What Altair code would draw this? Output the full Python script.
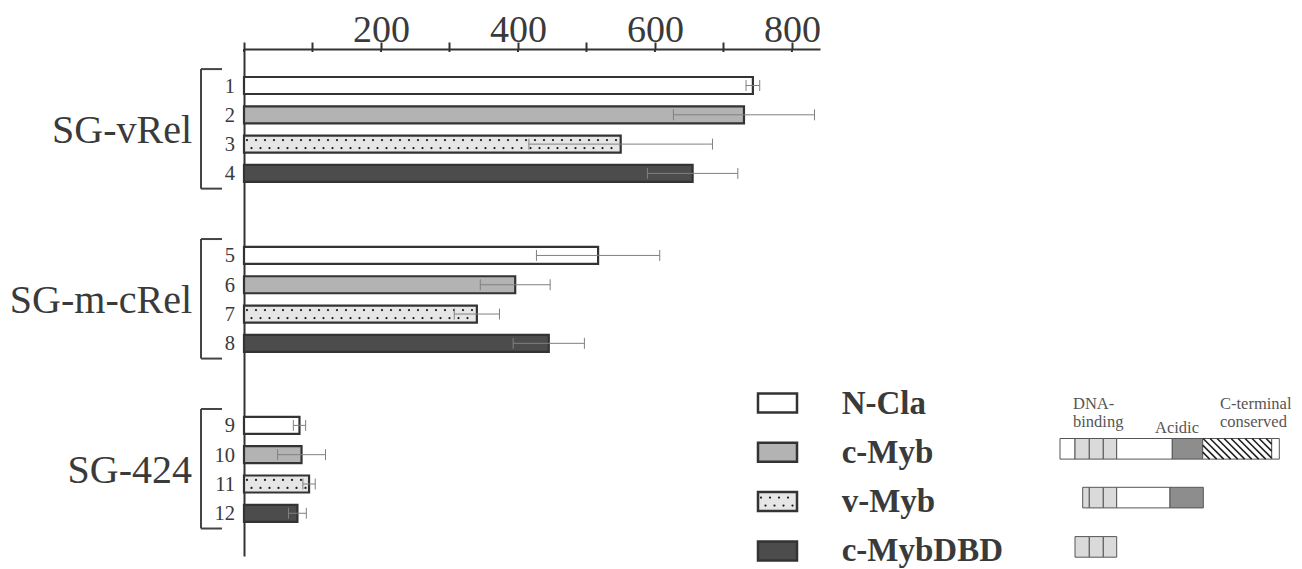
import altair as alt
import pandas as pd

# ---------------- data ----------------
BAR_NUMBERS = [1, 2, 3, 4, 5, 6, 7, 8, 9, 10, 11, 12]
GROUP_NAMES = ["SG-vRel", "SG-m-cRel", "SG-424"]
CONSTRUCTS = ["N-Cla", "c-Myb", "v-Myb", "c-MybDBD"]
VALUES = [743, 730, 550, 655, 517, 396, 340, 445, 81, 84, 95, 78]
ERRORS = [10, 103, 134, 66, 90, 51, 33, 52, 9, 35, 9, 13]
TICK_VALUES = [0, 100, 200, 300, 400, 500, 600, 700, 800]
LABELLED_TICKS = [200, 400, 600, 800]

# protein domain diagrams (relative segment lengths)
DIAGRAM_NAMES = ["c-Myb", "v-Myb", "c-MybDBD"]
CMYB_PARTS = ["plain", "repeat", "repeat", "repeat", "plain", "acidic", "cterm", "plain"]
CMYB_LENGTHS = [15, 14.3, 14, 13.4, 55.6, 30.4, 69, 7.6]
VMYB_PARTS = ["repeat", "repeat", "repeat", "plain", "acidic"]
VMYB_LENGTHS = [6.6, 14, 13.4, 53.3, 33.3]
DBD_PARTS = ["repeat", "repeat", "repeat"]
DBD_LENGTHS = [14.3, 14, 13.4]
DOMAIN_LABELS = ["DNA-", "binding", "Acidic", "C-terminal", "conserved"]

# ---------------- layout / style ----------------
W, H = 576, 507
X_MAX = 841
PX = W / X_MAX
SLOT = 29.3
GAP = 1.8
FIRST_Y = 36.5
BAR_H = 17
Y_MIN = -FIRST_Y / SLOT
Y_MAX = (H - FIRST_Y) / SLOT
SERIF = "Liberation Serif"
INK = "#333333"
FILLS = ["#ffffff", "#b3b3b3", "#e6e6e6", "#4c4c4c"]
PART_COLORS = {"plain": "#ffffff", "repeat": "#dadada", "acidic": "#8d8d8d", "cterm": "#ffffff"}
LEG_ROW = 49.3

# bars table
rows = []
for i, n in enumerate(BAR_NUMBERS):
    g = i // 4
    rows.append(dict(number=str(n), group=GROUP_NAMES[g], construct=CONSTRUCTS[i % 4],
                     value=VALUES[i], err=ERRORS[i], pos=i + g * GAP))
bars = pd.DataFrame(rows)
bars["zero"] = 0
bars["lo"] = bars.value - bars.err
bars["hi"] = bars.value + bars.err
bars["y0"] = bars.pos - BAR_H / 2 / SLOT
bars["y1"] = bars.pos + BAR_H / 2 / SLOT
bars["c0"] = bars.pos - 5.5 / SLOT
bars["c1"] = bars.pos + 5.5 / SLOT

groups = bars.groupby("group", sort=False).pos.agg(["min", "max"]).reset_index()
groups["top"] = groups["min"] - 0.56
groups["bottom"] = groups["max"] + 0.52
groups["mid"] = (groups["min"] + groups["max"]) / 2

ticks = pd.DataFrame({"tick": TICK_VALUES})

xs = alt.Scale(domain=[0, X_MAX], nice=False, zero=False)
ys = alt.Scale(domain=[Y_MIN, Y_MAX], reverse=True, nice=False, zero=False)
cs = alt.Scale(domain=CONSTRUCTS, range=FILLS)

label_test = " || ".join(f"datum.value == {v}" for v in LABELLED_TICKS)
x_axis = alt.Axis(orient="top", values=TICK_VALUES, grid=False, title=None,
                  labelExpr=f"({label_test}) ? datum.label : ''",
                  domainColor=INK, domainWidth=2, tickColor=INK, tickWidth=2, tickSize=7,
                  labelFont=SERIF, labelFontSize=38, labelColor="#3a3a3a",
                  labelBaseline="alphabetic", labelPadding=1, labelFlush=False,
                  labelOverlap=False)
y_axis = alt.Axis(orient="left", grid=False, labels=False, ticks=False, title=None,
                  domainColor=INK, domainWidth=2)

base = alt.Chart(bars)

bar_layer = base.mark_rect(stroke=INK, strokeWidth=2.2).encode(
    x=alt.X("value:Q", scale=xs, axis=x_axis), x2="zero:Q",
    y=alt.Y("y0:Q", scale=ys, axis=y_axis), y2="y1:Q",
    color=alt.Color("construct:N", scale=cs, legend=None),
)

# short tick stubs crossing below the top axis line
tick_stubs = alt.Chart(ticks).mark_rule(color=INK, strokeWidth=2).encode(
    x=alt.X("tick:Q", title=None), y=alt.value(0), y2=alt.value(3))

step = 4.5 / PX
dots_layer = base.transform_filter(alt.datum.construct == "v-Myb").transform_calculate(
    arr=f"sequence({3 / PX}, datum.value - {2 / PX}, {step})"
).transform_flatten(["arr"], as_=["t"]).transform_calculate(
    yy=f"datum.pos + (floor(datum.t / {step}) % 2 == 0 ? -{4 / SLOT} : {4 / SLOT})"
).mark_circle(size=5, color="#1a1a1a", opacity=1).encode(
    x=alt.X("t:Q", title=None), y=alt.Y("yy:Q", title=None))

err_line = base.mark_rule(color="#808080", strokeWidth=1).encode(
    x=alt.X("lo:Q", title=None), x2="hi:Q", y=alt.Y("pos:Q", title=None))
cap_lo = base.mark_rule(color="#808080", strokeWidth=1).encode(
    x=alt.X("lo:Q", title=None), y=alt.Y("c0:Q", title=None), y2="c1:Q")
cap_hi = base.mark_rule(color="#808080", strokeWidth=1).encode(
    x=alt.X("hi:Q", title=None), y=alt.Y("c0:Q", title=None), y2="c1:Q")

numbers = base.mark_text(align="right", baseline="alphabetic", dy=7, font=SERIF,
                         fontSize=20.5, color="#3a3a3a").encode(
    x=alt.value(-9), y=alt.Y("pos:Q", title=None), text="number:N")

gbase = alt.Chart(groups)
br_v = gbase.mark_rule(color="#444", strokeWidth=2).encode(
    x=alt.value(-43), y=alt.Y("top:Q", title=None), y2="bottom:Q")
br_t = gbase.mark_rule(color="#444", strokeWidth=2).encode(
    x=alt.value(-43), x2=alt.value(-22), y=alt.Y("top:Q", title=None))
br_b = gbase.mark_rule(color="#444", strokeWidth=2).encode(
    x=alt.value(-43), x2=alt.value(-22), y=alt.Y("bottom:Q", title=None))
glabels = gbase.mark_text(align="right", baseline="alphabetic", dy=13.4, font=SERIF,
                          fontSize=40, color="#3a3a3a").encode(
    x=alt.value(-52), y=alt.Y("mid:Q", title=None), text="group:N")

# ---------------- legend (pixel layout) ----------------
leg = pd.DataFrame({"construct": CONSTRUCTS, "i": range(len(CONSTRUCTS))})
leg["cy"] = 354 + leg.i * LEG_ROW
leg["x0"] = 514
leg["x1"] = 553
leg["y0"] = leg.cy - 9.5
leg["y1"] = leg.cy + 9.5
leg["tx"] = 597.7
leg["ty"] = leg.cy + 10.5
lbase = alt.Chart(leg)
leg_sw = lbase.mark_rect(stroke=INK, strokeWidth=2.5).encode(
    x=alt.X("x0:Q", scale=None), x2="x1:Q", y=alt.Y("y0:Q", scale=None), y2="y1:Q",
    color=alt.Color("construct:N", scale=cs, legend=None))
leg_dots = lbase.transform_filter(alt.datum.construct == "v-Myb").transform_calculate(
    arr="sequence(datum.x0 + 3, datum.x1 - 1, 4.5)"
).transform_flatten(["arr"], as_=["t"]).transform_calculate(
    yy="datum.cy + (floor((datum.t - datum.x0) / 4.5) % 2 == 0 ? -4 : 4)"
).mark_circle(size=5, color="#1a1a1a", opacity=1).encode(
    x=alt.X("t:Q", scale=None), y=alt.Y("yy:Q", scale=None))
leg_text = lbase.mark_text(align="left", baseline="alphabetic", font=SERIF, fontSize=33,
                           fontWeight="bold", color="#3a3a3a").encode(
    x=alt.X("tx:Q", scale=None), y=alt.Y("ty:Q", scale=None), text="construct:N")

# ---------------- domain diagrams ----------------
DIAG_START = {"c-Myb": 816, "v-Myb": 838.7, "c-MybDBD": 831}
DIAG_CY = {"c-Myb": 354 + LEG_ROW - 3.5, "v-Myb": 354 + 2 * LEG_ROW - 4,
           "c-MybDBD": 354 + 3 * LEG_ROW - 4}
DIAG_HALF = 10.3
segs = []
for name, parts, lengths in zip(DIAGRAM_NAMES, [CMYB_PARTS, VMYB_PARTS, DBD_PARTS],
                                [CMYB_LENGTHS, VMYB_LENGTHS, DBD_LENGTHS]):
    x = DIAG_START[name]
    for p, L in zip(parts, lengths):
        segs.append(dict(diagram=name, part=p, s=x, e=x + L,
                         top=DIAG_CY[name] - DIAG_HALF, bottom=DIAG_CY[name] + DIAG_HALF,
                         fillcol=PART_COLORS[p]))
        x += L
segs = pd.DataFrame(segs)
sbase = alt.Chart(segs)
seg_layer = sbase.mark_rect(stroke="#555", strokeWidth=1).encode(
    x=alt.X("s:Q", scale=None), x2="e:Q", y=alt.Y("top:Q", scale=None), y2="bottom:Q",
    fill=alt.Fill("fillcol:N", scale=None))
D = 2 * DIAG_HALF
hatch = sbase.transform_filter(alt.datum.part == "cterm").transform_calculate(
    arr=f"sequence(datum.s - {D}, datum.e, 7)"
).transform_flatten(["arr"], as_=["t"]).transform_calculate(
    hx1="max(datum.t, datum.s)", hx2=f"min(datum.t + {D}, datum.e)"
).transform_calculate(
    hy1="datum.top + (datum.hx1 - datum.t)", hy2="datum.top + (datum.hx2 - datum.t)"
).transform_filter("datum.hx2 > datum.hx1 + 0.5").mark_rule(
    color="#222", strokeWidth=1.6).encode(
    x=alt.X("hx1:Q", scale=None), x2="hx2:Q", y=alt.Y("hy1:Q", scale=None), y2="hy2:Q")

dl = pd.DataFrame({"text": DOMAIN_LABELS})
dl["tx"] = [829, 829, 911, 976, 976]
dl["ty"] = [360, 377.5, 383.5, 360, 377.5]
dlabels = alt.Chart(dl).mark_text(align="left", baseline="alphabetic", font=SERIF,
                                  fontSize=16.5, color="#555").encode(
    x=alt.X("tx:Q", scale=None), y=alt.Y("ty:Q", scale=None), text="text:N")

chart = alt.layer(
    bar_layer, tick_stubs, dots_layer, err_line, cap_lo, cap_hi, numbers,
    br_v, br_t, br_b, glabels,
    leg_sw, leg_dots, leg_text, seg_layer, hatch, dlabels,
).properties(
    width=W, height=H,
    padding={"left": 236, "top": 41, "right": 474, "bottom": 13},
    autosize=alt.AutoSizeParams(type="none"),
    background="white",
).configure_view(strokeWidth=0)

chart.save("out.html", embed_options={"renderer": "svg", "actions": False})
